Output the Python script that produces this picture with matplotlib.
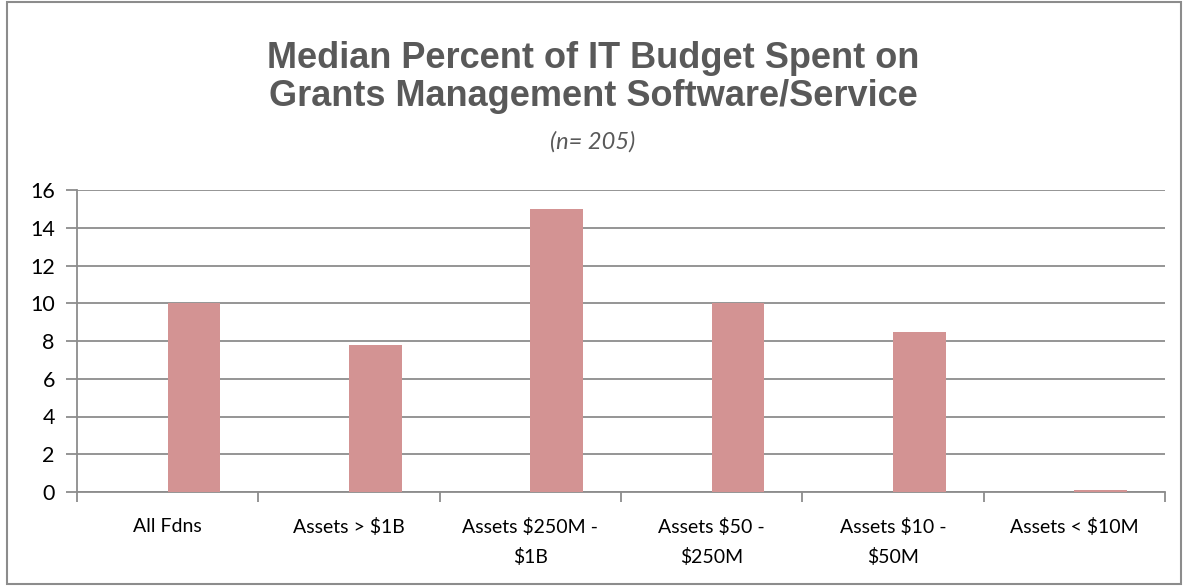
import matplotlib.pyplot as plt
import numpy as np

categories = ["All Fdns", "Assets > $1B", "Assets $250M -\n$1B", "Assets $50 -\n$250M",
              "Assets $10 -\n$50M", "Assets < $10M"]
values = [10.0, 7.8, 15.0, 10.0, 8.5, 0.1]
y_ticks = [0, 2, 4, 6, 8, 10, 12, 14, 16]

fig = plt.figure(figsize=(11.86, 5.86), dpi=100)
ax = fig.add_axes([77 / 1186, 1 - 492 / 586, (1165 - 77) / 1186, (492 - 190) / 586])

x = np.arange(len(categories))
# bars sit right of centre, as in the original two-series layout
ax.bar(x + 0.145, values, width=0.29, color="#d39393", zorder=3)

ax.set_xlim(-0.5, len(categories) - 0.5)
ax.set_ylim(0, 16)
ax.set_yticks(y_ticks)
ax.set_yticklabels([str(v) for v in y_ticks], fontsize=15.5, family="Lato", color="black")
ax.grid(axis="y", color="#8c8c8c", linewidth=1.3, zorder=0)

ax.set_xticks(x)
ax.set_xticklabels(categories, fontsize=14, family="Lato", color="black", linespacing=1.75)
ax.tick_params(axis="x", length=0, pad=19)
ax.set_xticks(np.arange(-0.5, len(categories)), minor=True)
ax.tick_params(axis="x", which="minor", length=7, color="#8c8c8c", width=1.3)
ax.tick_params(axis="y", length=8, color="#8c8c8c", width=1.3, pad=8)

for side in ["top", "right"]:
    ax.spines[side].set_visible(False)
for side in ["left", "bottom"]:
    ax.spines[side].set_color("#8c8c8c")
    ax.spines[side].set_linewidth(1.3)

fig.text(0.5, 1 - 59 / 586, "Median Percent of IT Budget Spent on",
         ha="center", va="center", fontsize=26, fontweight="bold", color="#595959",
         family="Liberation Sans")
fig.text(0.5, 1 - 97 / 586, "Grants Management Software/Service",
         ha="center", va="center", fontsize=26, fontweight="bold", color="#595959",
         family="Liberation Sans")
fig.text(0.5, 1 - 142 / 586, "(n= 205)", ha="center", va="center", fontsize=17,
         style="italic", color="#595959", family="Lato")

border = plt.Rectangle((0.006, 0.004), 0.99, 0.992, transform=fig.transFigure,
                       fill=False, edgecolor="#8c8c8c", linewidth=1.5)
fig.add_artist(border)

fig.savefig("out.png", dpi=100)
